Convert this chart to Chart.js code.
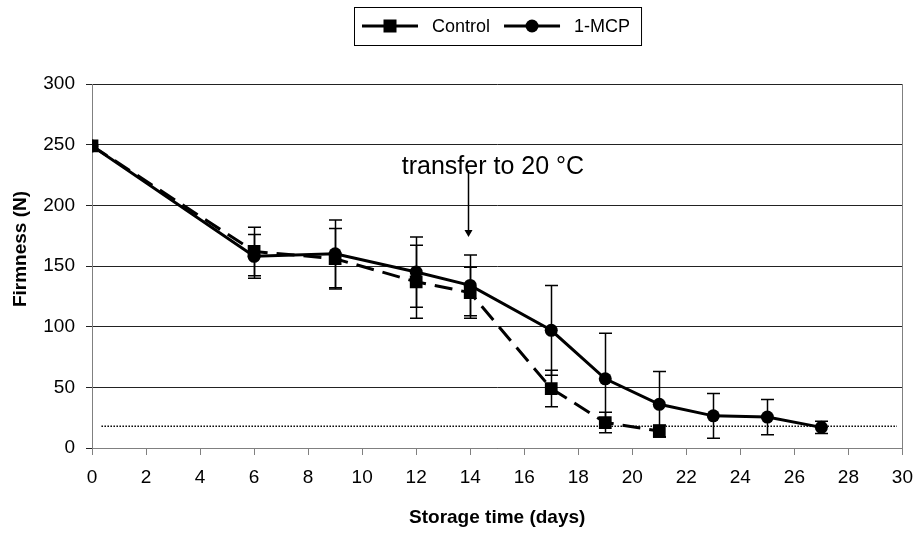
<!DOCTYPE html>
<html>
<head>
<meta charset="utf-8">
<script src="https://cdn.jsdelivr.net/npm/chart.js@4.4.1/dist/chart.umd.min.js"></script>
<style>
  html, body { margin: 0; padding: 0; background: #fff; }
  #wrap { width: 924px; height: 534px; }
</style>
</head>
<body>
<div id="wrap"><canvas id="chart" width="924" height="534"></canvas></div>
<script>
// data
const controlDays = [0, 6, 9, 12, 14, 17, 19, 21];
const controlFirmness = [249, 162, 156, 137, 128, 49, 21, 14];
const controlErr = [0, 20, 25, 30, 21, 15, 8.5, 5];

const mcpDays = [0, 6, 9, 12, 14, 17, 19, 21, 23, 25, 27];
const mcpFirmness = [249, 158, 160, 145, 134, 97, 57, 36, 26.5, 25.5, 17];
const mcpErr = [0, 18, 28, 29, 25, 37, 37.5, 27, 18.5, 14.5, 5];

// dotted reference line
const limitDays = [0.35, 29.8];
const limitFirmness = [18, 18];

// axis ranges
const xRange = [0, 30];
const xStep = 2;
const yRange = [0, 300];
const yStep = 50;

// arrow note
const transferDay = 14;
const transferArrow = [229, 174];
const transferText = 'transfer to 20 °C';
const transferTextPos = [14.84, 225.5];

const FONT = '"Liberation Sans", Arial, sans-serif';

function points(xs, ys) {
  return xs.map((d, i) => ({ x: d, y: ys[i] }));
}

const errorBars = {
  id: 'errorBars',
  beforeDatasetsDraw(chart) {
    const { ctx, scales: { x, y } } = chart;
    ctx.save();
    ctx.strokeStyle = '#000';
    ctx.lineWidth = 1.5;
    [[controlDays, controlFirmness, controlErr], [mcpDays, mcpFirmness, mcpErr]].forEach(([days, vals, errs]) => {
      days.forEach((d, i) => {
        if (!errs[i]) return;
        const px = Math.round(x.getPixelForValue(d)) + 0.5;
        const top = y.getPixelForValue(vals[i] + errs[i]);
        const bot = y.getPixelForValue(vals[i] - errs[i]);
        ctx.beginPath();
        ctx.moveTo(px, top); ctx.lineTo(px, bot);
        ctx.moveTo(px - 6.5, top); ctx.lineTo(px + 6.5, top);
        ctx.moveTo(px - 6.5, bot); ctx.lineTo(px + 6.5, bot);
        ctx.stroke();
      });
    });
    ctx.restore();
  }
};

const extras = {
  id: 'extras',
  afterDraw(chart) {
    const { ctx, chartArea, scales: { x, y } } = chart;
    ctx.save();

    // right frame line
    ctx.strokeStyle = '#808080';
    ctx.lineWidth = 1;
    ctx.beginPath();
    ctx.moveTo(Math.round(chartArea.right) + 0.5, chartArea.top);
    ctx.lineTo(Math.round(chartArea.right) + 0.5, chartArea.bottom);
    ctx.stroke();

    // y title
    ctx.fillStyle = '#000';
    ctx.font = 'bold 19px ' + FONT;
    ctx.textAlign = 'center';
    ctx.textBaseline = 'middle';
    ctx.save();
    ctx.translate(21, 249);
    ctx.rotate(-Math.PI / 2);
    ctx.fillText('Firmness (N)', 0, 0);
    ctx.restore();

    // transfer note + arrow
    ctx.font = '25px ' + FONT;
    ctx.textBaseline = 'alphabetic';
    ctx.fillText(transferText, x.getPixelForValue(transferTextPos[0]), y.getPixelForValue(transferTextPos[1]));
    const ax = Math.round(x.getPixelForValue(transferDay)) - 1.5;
    const a0 = y.getPixelForValue(transferArrow[0]);
    const a1 = y.getPixelForValue(transferArrow[1]);
    ctx.strokeStyle = '#000';
    ctx.lineWidth = 1.5;
    ctx.beginPath();
    ctx.moveTo(ax, a0);
    ctx.lineTo(ax, a1 - 5);
    ctx.stroke();
    ctx.beginPath();
    ctx.moveTo(ax - 4, a1 - 7);
    ctx.lineTo(ax + 4, a1 - 7);
    ctx.lineTo(ax, a1);
    ctx.closePath();
    ctx.fill();

    // legend with border
    const items = chart.data.datasets.filter(ds => ds.label);
    ctx.font = '18px ' + FONT;
    const lineLen = 56, gap = 14, padL = 8, padR = 11;
    const widths = items.map(ds => lineLen + gap + ctx.measureText(ds.label).width);
    const total = padL + widths.reduce((a, b) => a + b, 0) + gap * (items.length - 1) + padR;
    const left = Math.round((chartArea.left + chartArea.right) / 2 - total / 2);
    const boxTop = 7, boxH = 38, cy = boxTop + boxH / 2;
    ctx.strokeStyle = '#000';
    ctx.lineWidth = 1;
    ctx.strokeRect(left + 0.5, boxTop + 0.5, total, boxH);
    let cx = left + padL;
    items.forEach((ds, i) => {
      ctx.lineWidth = 3;
      ctx.beginPath();
      ctx.moveTo(cx, cy);
      ctx.lineTo(cx + lineLen, cy);
      ctx.stroke();
      const mx = cx + lineLen / 2;
      if (ds.pointStyle === 'rect') {
        ctx.fillRect(mx - 6.5, cy - 6.5, 13, 13);
      } else {
        ctx.beginPath();
        ctx.arc(mx, cy, 6.5, 0, Math.PI * 2);
        ctx.fill();
      }
      ctx.textAlign = 'left';
      ctx.textBaseline = 'middle';
      ctx.fillText(ds.label, cx + lineLen + gap, cy + 1);
      cx += widths[i] + gap;
    });

    ctx.restore();
  }
};

new Chart(document.getElementById('chart'), {
  type: 'line',
  data: {
    datasets: [
      {
        label: 'Control',
        data: points(controlDays, controlFirmness),
        borderColor: '#000',
        backgroundColor: '#000',
        borderWidth: 3,
        borderDash: [18, 9],
        pointStyle: 'rect',
        pointRadius: 9,
        pointBorderWidth: 0,
        tension: 0
      },
      {
        label: '1-MCP',
        data: points(mcpDays, mcpFirmness),
        borderColor: '#000',
        backgroundColor: '#000',
        borderWidth: 3,
        pointStyle: 'circle',
        pointRadius: 6.5,
        pointBorderWidth: 0,
        tension: 0
      },
      {
        label: '',
        data: points(limitDays, limitFirmness),
        borderColor: '#000',
        borderWidth: 1.5,
        borderDash: [1.5, 1.5],
        pointRadius: 0
      }
    ]
  },
  options: {
    responsive: false,
    animation: false,
    devicePixelRatio: 1,
    layout: { padding: { top: 84, right: 15, left: 0, bottom: 0 } },
    plugins: {
      legend: { display: false },
      tooltip: { enabled: false }
    },
    scales: {
      x: {
        type: 'linear',
        min: xRange[0],
        max: xRange[1],
        afterFit: s => { s.height = 86; },
        ticks: { stepSize: xStep, padding: 11, color: '#000', font: { family: FONT, size: 19 } },
        grid: { drawOnChartArea: false, tickLength: 7, color: '#808080' },
        border: { color: '#808080' },
        title: {
          display: true,
          text: 'Storage time (days)',
          color: '#000',
          font: { family: FONT, size: 19, weight: 'bold' },
          padding: { top: 0, bottom: 5 }
        }
      },
      y: {
        min: yRange[0],
        max: yRange[1],
        afterFit: s => { s.width = 92; },
        ticks: { stepSize: yStep, padding: 11, color: '#000', font: { family: FONT, size: 19 } },
        grid: { color: '#222', tickLength: 6 },
        border: { color: '#808080' }
      }
    }
  },
  plugins: [errorBars, extras]
});
</script>
</body>
</html>
